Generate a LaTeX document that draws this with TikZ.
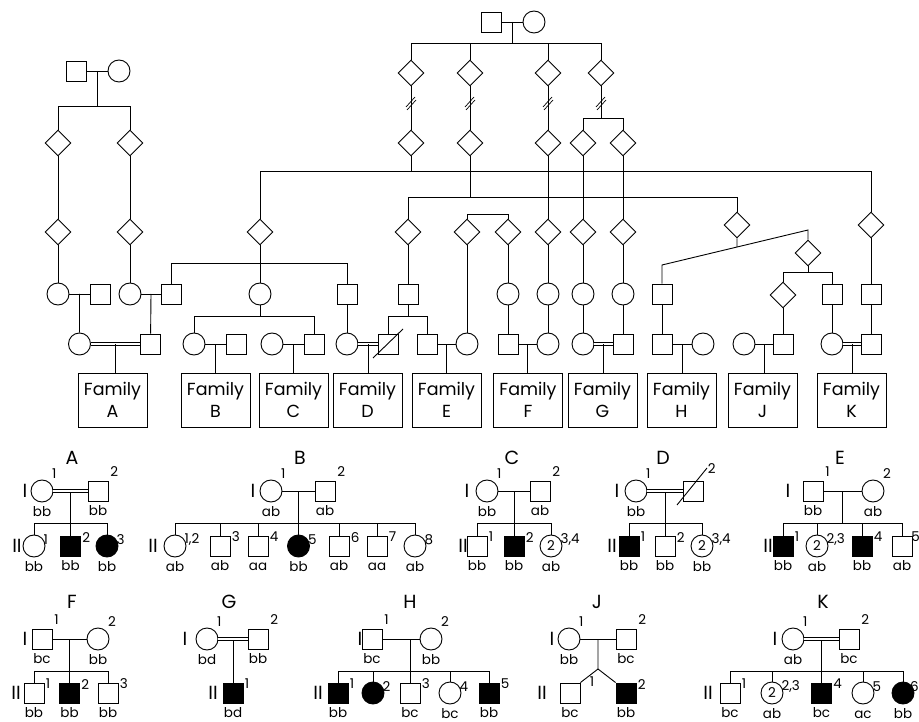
\documentclass[tikz,border=0pt]{standalone}
\usepackage{fontspec}
\setmainfont{Poppins}
\usetikzlibrary{shapes.geometric,calc}
\tikzset{
  ma/.style={draw, rectangle, minimum size=20pt, inner sep=0pt},
  fe/.style={draw, circle, minimum size=22pt, inner sep=0pt, font=\fontsize{13.5}{14}\selectfont},
  un/.style={draw, diamond, minimum size=26pt, inner sep=0pt},
  aff/.style={fill=black},
  dbl/.style={double, double distance=1.6pt},
  num/.style={font=\fontsize{13.5}{14}\selectfont, inner sep=0pt},
  n1/.style={label={[num, xshift=1.5pt, yshift=4pt]north east:#1}},
  n2/.style={label={[num, anchor=west, xshift=1pt, yshift=-1.5pt]north east:#1}},
  gt/.style={label={[num, text height=10pt, text depth=0pt, yshift=-3.5pt]below:#1}},
  ttl/.style={font=\fontsize{19}{20}\selectfont, inner sep=0pt},
  gen/.style={font=\fontsize{19}{20}\selectfont, inner sep=0pt},
  fam/.style={draw, minimum width=69pt, minimum height=54pt, align=center, inner sep=0pt, font=\fontsize{17.5}{22}\selectfont},
}
\begin{document}
\begin{tikzpicture}[x=1pt, y=-1pt, line width=0.9pt]
\useasboundingbox (0,0) rectangle (919,722);

% levels of the sibship lines
\coordinate (hA) at (0,106);
\coordinate (hB) at (0,43);
\coordinate (hC) at (0,118);
\coordinate (hD) at (0,171);
\coordinate (hE) at (0,197);
\coordinate (hF) at (0,214);
\coordinate (hG) at (0,263);
\coordinate (hH) at (0,272);
\coordinate (hJ) at (0,316);
\coordinate (r1s) at (0,523);
\coordinate (r2s) at (0,671);

% left founders
\node[ma] (Lm) at (76,71) {};
\node[fe] (Lf) at (119,71) {};
\draw (Lm) -- (Lf);
\node[un] (L1a) at (58,143) {};
\node[un] (L1b) at (130,143) {};
\draw ($(Lm.east)!.5!(Lf.west)$) coordinate (Lc) -- (Lc |- hA);
\draw (L1a.north) -- (L1a |- hA) -- (L1b |- hA) -- (L1b.north);
\node[un] (L2a) at (58,232) {};
\node[un] (L2b) at (130,232) {};
\draw (L1a) -- (L2a);
\draw (L1b) -- (L2b);
\node[fe] (L3a) at (58,294) {};
\node[ma] (L3b) at (100,294) {};
\node[fe] (L3c) at (130,294) {};
\node[ma] (L3d) at (171,294) {};
\draw (L2a) -- (L3a);
\draw (L2b) -- (L3c);
\draw (L3a) -- (L3b);
\draw (L3c) -- (L3d);
\node[fe] (L4a) at (79.5,344) {};
\node[ma] (L4b) at (150.5,344) {};
\draw ($(L3a.east)!.5!(L3b.west)$) -- (L4a);
\draw ($(L3c.east)!.5!(L3d.west)$) -- (L4b);

% right founders
\node[ma] (Rm) at (491.5,22) {};
\node[fe] (Rf) at (534,22) {};
\draw (Rm) -- (Rf);
\node[un] (R1a) at (411,73) {};
\node[un] (R1b) at (470,73) {};
\node[un] (R1c) at (548,73) {};
\node[un] (R1d) at (601,73) {};
\draw ($(Rm.east)!.5!(Rf.west)$) coordinate (Rc) -- (Rc |- hB);
\draw (R1a.north) -- (R1a |- hB) -- (R1d |- hB) -- (R1d.north);
\draw (R1b.north) -- (R1b |- hB);
\draw (R1c.north) -- (R1c |- hB);
\node[un] (R2a) at (411,143) {};
\node[un] (R2b) at (470,143) {};
\node[un] (R2c) at (548,143) {};
\node[un] (R2d) at (583,143) {};
\node[un] (R2e) at (623,143) {};
\draw (R1a) -- (R2a);
\draw (R1b) -- (R2b);
\draw (R1c) -- (R2c);
\draw (R1d.south) -- (R1d |- hC);
\draw (R2d.north) -- (R2d |- hC) -- (R2e |- hC) -- (R2e.north);
% generation gaps
\draw[line width=0.7pt] (406,107) -- (415,97) (407,110) -- (416,100);
\draw[line width=0.7pt] (465,107) -- (474,97) (466,110) -- (475,100);
\draw[line width=0.7pt] (543,107) -- (552,97) (544,110) -- (553,100);
\draw[line width=0.7pt] (596,107) -- (605,97) (597,110) -- (606,100);

% third generation
\node[un] (S1) at (260,232) {};
\node[un] (S2) at (408,232) {};
\node[un] (S3) at (467,232) {};
\node[un] (S4) at (508,232) {};
\node[un] (S5) at (548,232) {};
\node[un] (S6) at (583,232) {};
\node[un] (S7) at (623,232) {};
\node[un] (S8) at (737,225) {};
\node[un] (S9) at (871,225) {};
\draw (R2a.south) -- (R2a |- hD);
\draw (S1.north) -- (S1 |- hD) -- (S9 |- hD) -- (S9.north);
\draw (R2b.south) -- (R2b |- hE);
\draw (S2.north) -- (S2 |- hE) -- (S8 |- hE) -- (S8.north);
\draw (S3.north) -- (S3 |- hF) -- (S4 |- hF) -- (S4.north);
\draw (R2c) -- (S5);
\draw (R2d) -- (S6);
\draw (R2e) -- (S7);

% fourth generation
\node[fe] (P2) at (260,294) {};
\node[ma] (P3) at (347,294) {};
\node[ma] (P4) at (408,294) {};
\node[fe] (P5) at (508,294) {};
\node[fe] (P6) at (548,294) {};
\node[fe] (P7) at (583,294) {};
\node[fe] (P8) at (623,294) {};
\node[ma] (P9) at (662,294) {};
\node[un] (P10) at (808,253) {};
\node[un] (P11) at (783,295) {};
\node[ma] (P12) at (832,294) {};
\node[ma] (P13) at (871,294) {};
\draw (S1) -- (P2);
\draw (L3d.north) -- (L3d |- hG) -- (P3 |- hG) -- (P3.north);
\draw (S2) -- (P4);
\draw (S4) -- (P5);
\draw (S5) -- (P6);
\draw (S6) -- (P7);
\draw (S7) -- (P8);
\coordinate (sL) at (662,265);
\coordinate (sR) at (808,230);
\draw (P9.north) -- (sL) -- (sR) -- (P10.north);
\draw (S8.south) -- ($(sL)!0.5137!(sR)$);
\draw (P10.south) -- (P10 |- hH);
\draw (P11.north) -- (P11 |- hH) -- (P12 |- hH) -- (P12.north);
\draw (S9) -- (P13);

% couples of the families
\node[fe] (Q1) at (194,344) {};
\node[ma] (Q2) at (236,344) {};
\node[fe] (Q3) at (272,344) {};
\node[ma] (Q4) at (314,344) {};
\node[fe] (Q5) at (347,344) {};
\node[ma] (Q6) at (388,344) {};
\node[ma] (Q7) at (427,344) {};
\node[fe] (Q8) at (467,344) {};
\node[ma] (Q9) at (508,344) {};
\node[fe] (Q10) at (548,344) {};
\node[fe] (Q11) at (583,344) {};
\node[ma] (Q12) at (623,344) {};
\node[ma] (Q13) at (662,344) {};
\node[fe] (Q14) at (703,344) {};
\node[fe] (Q15) at (744,344) {};
\node[ma] (Q16) at (783,344) {};
\node[fe] (Q17) at (832,344) {};
\node[ma] (Q18) at (871,344) {};
\draw (P2.south) -- (P2 |- hJ);
\draw (Q1.north) -- (Q1 |- hJ) -- (Q4 |- hJ) -- (Q4.north);
\draw (P3) -- (Q5);
\draw ($(Q6)+(-15,14)$) -- ($(Q6)+(15,-15)$);
\draw (P4.south) -- (P4 |- hJ);
\draw (Q6.north) -- (Q6 |- hJ) -- (Q7 |- hJ) -- (Q7.north);
\draw (S3) -- (Q8);
\draw (P5) -- (Q9);
\draw (P6) -- (Q10);
\draw (P7) -- (Q11);
\draw (P8) -- (Q12);
\draw (P9) -- (Q13);
\draw (P11) -- (Q16);
\draw (P12) -- (Q17);
\draw (P13) -- (Q18);
\draw[dbl] (L4a) -- (L4b);
\draw (Q1) -- (Q2);
\draw (Q3) -- (Q4);
\draw[dbl] (Q5) -- (Q6);
\draw (Q7) -- (Q8);
\draw (Q9) -- (Q10);
\draw[dbl] (Q11) -- (Q12);
\draw (Q13) -- (Q14);
\draw (Q15) -- (Q16);
\draw[dbl] (Q17) -- (Q18);

% family boxes
\node[fam] (FA) at (112.5,400) {Family\\A};
\node[fam] (FB) at (215.5,400) {Family\\B};
\node[fam] (FC) at (293.5,400) {Family\\C};
\node[fam] (FD) at (367.5,400) {Family\\D};
\node[fam] (FE) at (446.5,400) {Family\\E};
\node[fam] (FF) at (528,400) {Family\\F};
\node[fam] (FG) at (602.5,400) {Family\\G};
\node[fam] (FH) at (681.5,400) {Family\\H};
\node[fam] (FJ) at (762.5,400) {Family\\J};
\node[fam] (FK) at (851.5,400) {Family\\K};
\draw ($(L4a.east)!.5!(L4b.west)$) coordinate (dA) -- (dA |- FA.north);
\draw ($(Q1.east)!.5!(Q2.west)$) coordinate (dB) -- (dB |- FB.north);
\draw ($(Q3.east)!.5!(Q4.west)$) coordinate (dC) -- (dC |- FC.north);
\draw ($(Q5.east)!.5!(Q6.west)$) coordinate (dD) -- (dD |- FD.north);
\draw ($(Q7.east)!.5!(Q8.west)$) coordinate (dE) -- (dE |- FE.north);
\draw ($(Q9.east)!.5!(Q10.west)$) coordinate (dF) -- (dF |- FF.north);
\draw ($(Q11.east)!.5!(Q12.west)$) coordinate (dG) -- (dG |- FG.north);
\draw ($(Q13.east)!.5!(Q14.west)$) coordinate (dH) -- (dH |- FH.north);
\draw ($(Q15.east)!.5!(Q16.west)$) coordinate (dJ) -- (dJ |- FJ.north);
\draw ($(Q17.east)!.5!(Q18.west)$) coordinate (dK) -- (dK |- FK.north);

% Family A
\node[ttl] (tA) at (72,458) {A};
\node[gen] (gA1) at (25,491) {I};
\node[gen] (gA2) at (17,546) {II};
\node[fe, n1=1, gt=bb] (A1) at (42,491) {};
\node[ma, n1=2, gt=bb] (A2) at (98,491) {};
\node[fe, n2=1, gt=bb] (A3) at (34,546) {};
\node[ma, aff, n2=2, gt=bb] (A4) at (70.5,546) {};
\node[fe, aff, n2=3, gt=bb] (A5) at (107,546) {};
\draw (A4.north) -- (A4 |- A1);
\draw[dbl] (A1) -- (A2);
\draw (A3.north) -- (A3 |- r1s) -- (A5 |- r1s) -- (A5.north);

% Family B
\node[ttl] (tB) at (300,458) {B};
\node[gen] (gB1) at (253,491) {I};
\node[gen] (gB2) at (153,546) {II};
\node[fe, n1=1, gt=ab] (B1) at (271,491) {};
\node[ma, n1=2, gt=ab] (B2) at (325,491) {};
\node[fe, n2={1,2}, gt=ab] (B3) at (175,546) {};
\node[ma, n2=3, gt=ab] (B4) at (220,546) {};
\node[ma, n2=4, gt=aa] (B5) at (258,546) {};
\node[fe, aff, n2=5, gt=bb] (B6) at (298.5,546) {};
\node[ma, n2=6, gt=ab] (B7) at (339,546) {};
\node[ma, n2=7, gt=aa] (B8) at (377,546) {};
\node[fe, n2=8, gt=ab] (B9) at (415,546) {};
\draw (B1) -- (B2);
\draw (B6.north) -- (B6 |- B1);
\draw (B3.north) -- (B3 |- r1s) -- (B9 |- r1s) -- (B9.north);
\draw (B4.north) -- (B4 |- r1s);
\draw (B5.north) -- (B5 |- r1s);
\draw (B7.north) -- (B7 |- r1s);
\draw (B8.north) -- (B8 |- r1s);

% Family C
\node[ttl] (tC) at (512,458) {C};
\node[gen] (gC1) at (467,491) {I};
\node[gen] (gC2) at (463,546) {II};
\node[fe, n1=1, gt=bb] (C1) at (487,491) {};
\node[ma, n1=2, gt=ab] (C2) at (540,491) {};
\node[ma, n2=1, gt=bb] (C3) at (477,546) {};
\node[ma, aff, n2=2, gt=bb] (C4) at (514,546) {};
\node[fe, n2={3,4}, gt=ab] (C5) at (551,546) {2};
\draw (C1) -- (C2);
\draw (C4.north) -- (C4 |- C1);
\draw (C3.north) -- (C3 |- r1s) -- (C5 |- r1s) -- (C5.north);

% Family D
\node[ttl] (tD) at (663,458) {D};
\node[gen] (gD1) at (617,491) {I};
\node[gen] (gD2) at (612,546) {II};
\node[fe, n1=1, gt=bb] (D1) at (636,491) {};
\node[ma, label={[num, xshift=4pt, yshift=7pt]north east:2}] (D2) at (693,491) {};
\draw ($(D2)+(-16,14)$) -- ($(D2)+(14,-23)$);
\node[ma, aff, n2=1, gt=bb] (D3) at (629,546) {};
\node[ma, n2=2, gt=bb] (D4) at (665,546) {};
\node[fe, n2={3,4}, gt=bb] (D5) at (702,546) {2};
\draw (D4.north) -- (D4 |- D1);
\draw[dbl] (D1) -- (D2);
\draw (D3.north) -- (D3 |- r1s) -- (D5 |- r1s) -- (D5.north);

% Family E
\node[ttl] (tE) at (840,458) {E};
\node[gen] (gE1) at (788,491) {I};
\node[gen] (gE2) at (768,546) {II};
\node[ma, n1=1, gt=bb] (E1) at (813,491) {};
\node[fe, n1=2, gt=ab] (E2) at (873,491) {};
\node[ma, aff, n2=1, gt=bb] (E3) at (783,546) {};
\node[fe, n2={2,3}, gt=ab] (E4) at (817,546) {2};
\node[ma, aff, n2=4, gt=bb] (E5) at (862,546) {};
\node[ma, label={[num, anchor=west, xshift=-1.5pt, yshift=-1.5pt]north east:5}, gt=ab] (E6) at (902,546) {};
\draw (E1) -- (E2);
\draw ($(E1.east)!.5!(E2.west)$) coordinate (Ed) -- (Ed |- r1s);
\draw (E3.north) -- (E3 |- r1s) -- (E6 |- r1s) -- (E6.north);
\draw (E4.north) -- (E4 |- r1s);
\draw (E5.north) -- (E5 |- r1s);

% Family F
\node[ttl] (tF) at (72,602) {F};
\node[gen] (gF1) at (25,639) {I};
\node[gen] (gF2) at (16,693) {II};
\node[ma, n1=1, gt=bc] (F1) at (42,639) {};
\node[fe, n1=2, gt=bb] (F2) at (98,639) {};
\node[ma, n2=1, gt=bb] (F3) at (34,693) {};
\node[ma, aff, n2=2, gt=bb] (F4) at (69.5,693) {};
\node[ma, n2=3, gt=bb] (F5) at (108,693) {};
\draw (F1) -- (F2);
\draw (F4.north) -- (F4 |- F1);
\draw (F3.north) -- (F3 |- r2s) -- (F5 |- r2s) -- (F5.north);

% Family G
\node[ttl] (tG) at (229,602) {G};
\node[gen] (gG1) at (185,639) {I};
\node[gen] (gG2) at (213,693) {II};
\node[fe, n1=1, gt=bd] (G1) at (207,639) {};
\node[ma, n1=2, gt=bb] (G2) at (258,639) {};
\node[ma, aff, n2=1, gt=bd] (G3) at (233,693) {};
\draw (G3.north) -- (G3 |- G1);
\draw[dbl] (G1) -- (G2);

% Family H
\node[ttl] (tH) at (410,602) {H};
\node[gen] (gH1) at (360,639) {I};
\node[gen] (gH2) at (318,693) {II};
\node[ma, n1=1, gt=bc] (H1) at (372,639) {};
\node[fe, n1=2, gt=bb] (H2) at (431,639) {};
\node[ma, aff, n2=1, gt=bb] (H3) at (338,693) {};
\node[fe, aff, n2=2] (H4) at (373,693) {};
\node[ma, n2=3, gt=bc] (H5) at (410,693) {};
\node[fe, n2=4, gt=bc] (H6) at (450,693) {};
\node[ma, aff, n2=5, gt=bb] (H7) at (489,693) {};
\draw (H1) -- (H2);
\draw (H5.north) -- (H5 |- H1);
\draw (H3.north) -- (H3 |- r2s) -- (H7 |- r2s) -- (H7.north);
\draw (H4.north) -- (H4 |- r2s);
\draw (H6.north) -- (H6 |- r2s);

% Family J
\node[ttl] (tJ) at (597,602) {J};
\node[gen] (gJ1) at (552,639) {I};
\node[gen] (gJ2) at (542,693) {II};
\node[fe, n1=1, gt=bb] (J1) at (569,639) {};
\node[ma, n1=2, gt=bc] (J2) at (626,639) {};
\node[ma, label={[num, anchor=west, xshift=9pt, yshift=1pt]north east:1}, gt=bc] (J3) at (570,693) {};
\node[ma, aff, n2=2, gt=bb] (J4) at (626,693) {};
\coordinate (Jt) at (598,669);
\draw (J1) -- (J2);
\draw ($(J1.east)!.5!(J2.west)$) -- (Jt);
\draw (J3.north east) -- (Jt) -- (J4.north west);

% Family K
\node[ttl] (tK) at (823,602) {K};
\node[gen] (gK1) at (775,639) {I};
\node[gen] (gK2) at (708,693) {II};
\node[fe, n1=1, gt=ab] (K1) at (793,639) {};
\node[ma, n1=2, gt=bc] (K2) at (849,639) {};
\node[ma, n2=1, gt=bc] (K3) at (730,693) {};
\node[fe, n2={2,3}, gt=ab] (K4) at (772,693) {2};
\node[ma, aff, n2=4, gt=bc] (K5) at (821.5,693) {};
\node[fe, n2=5, gt=ac] (K6) at (863,693) {};
\node[fe, aff, label={[num, anchor=west, xshift=-1.5pt, yshift=-1.5pt]north east:6}, gt=bb] (K7) at (903,693) {};
\draw (K5.north) -- (K5 |- K1);
\draw[dbl] (K1) -- (K2);
\draw (K3.north) -- (K3 |- r2s) -- (K7 |- r2s) -- (K7.north);
\draw (K4.north) -- (K4 |- r2s);
\draw (K6.north) -- (K6 |- r2s);

\end{tikzpicture}
\end{document}
